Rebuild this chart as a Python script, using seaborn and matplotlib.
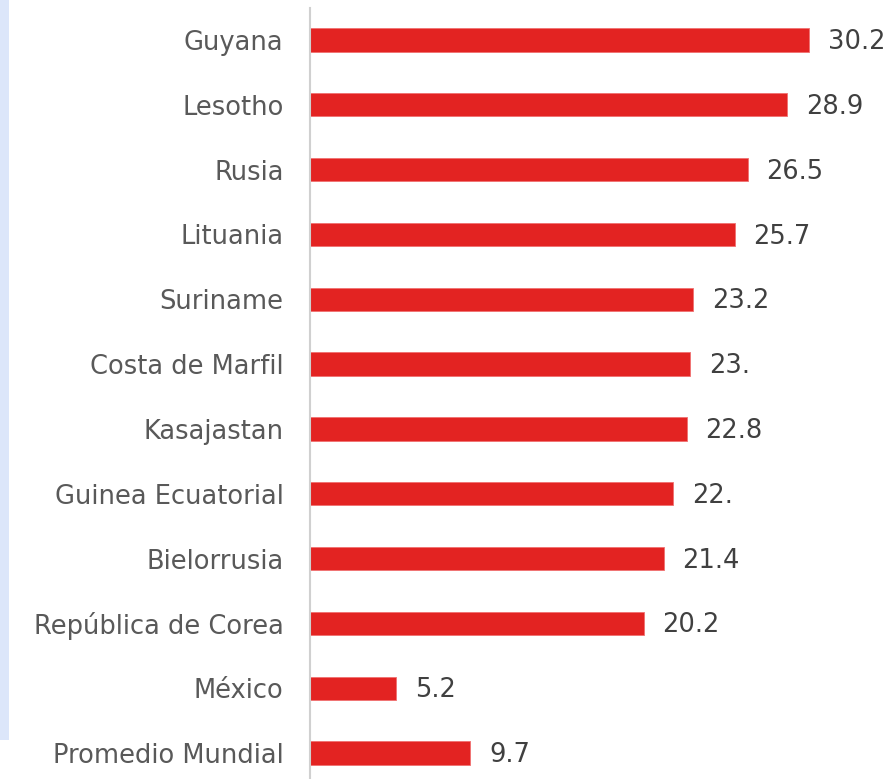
import matplotlib
matplotlib.use("Agg")
import matplotlib.pyplot as plt
import seaborn as sns
import pandas as pd
from matplotlib.patches import Rectangle

countries = ["Guyana", "Lesotho", "Rusia", "Lituania", "Suriname", "Costa de Marfil",
             "Kasajastan", "Guinea Ecuatorial", "Bielorrusia", "República de Corea",
             "México", "Promedio Mundial"]
values = [30.2, 28.9, 26.5, 25.7, 23.2, 23.0, 22.8, 22.0, 21.4, 20.2, 5.2, 9.7]
value_labels = ["30.2", "28.9", "26.5", "25.7", "23.2", "23.", "22.8", "22.", "21.4",
                "20.2", "5.2", "9.7"]

df = pd.DataFrame({"pais": countries, "valor": values})

sns.set_theme(style="white")
plt.rcParams['font.family'] = ['DejaVu Sans']

W, H = 891, 779
fig = plt.figure(figsize=(W / 100, H / 100), dpi=100)

# light blue strip at left edge
fig.patches.append(Rectangle((0, (H - 740) / H), 9 / W, 740 / H, transform=fig.transFigure,
                             facecolor="#DCE6FA", edgecolor="none", zorder=0))

ax_left = 310 / W
ax_top = 7.6
ax_bottom = 785.4
ax = fig.add_axes([ax_left, (H - ax_bottom) / H, (W - 310) / W, (ax_bottom - ax_top) / H])
ax.patch.set_alpha(0)

sns.barplot(data=df, x="valor", y="pais", orient="h", color="#E32322", width=0.36,
            saturation=1, ax=ax, edgecolor="#F07070", linewidth=0.6)

anns = ax.bar_label(ax.containers[0], labels=value_labels, padding=13.5, fontsize=18.5,
                    color="#404040")
for a in anns:
    a.xyann = (13.5, -1.5)

ax.set_xlim(0, 581 / 16.52)
ax.set_ylim(11.5, -0.5)
ax.set_xlabel("")
ax.set_ylabel("")
ax.set_xticks([])
ax.tick_params(axis="y", length=0, pad=19, labelsize=18.5, labelcolor="#595959")
for s in ["top", "right", "bottom"]:
    ax.spines[s].set_visible(False)
ax.spines["left"].set_color("#D0D0D0")
ax.spines["left"].set_linewidth(1.5)

fig.savefig("out.png", dpi=100)
